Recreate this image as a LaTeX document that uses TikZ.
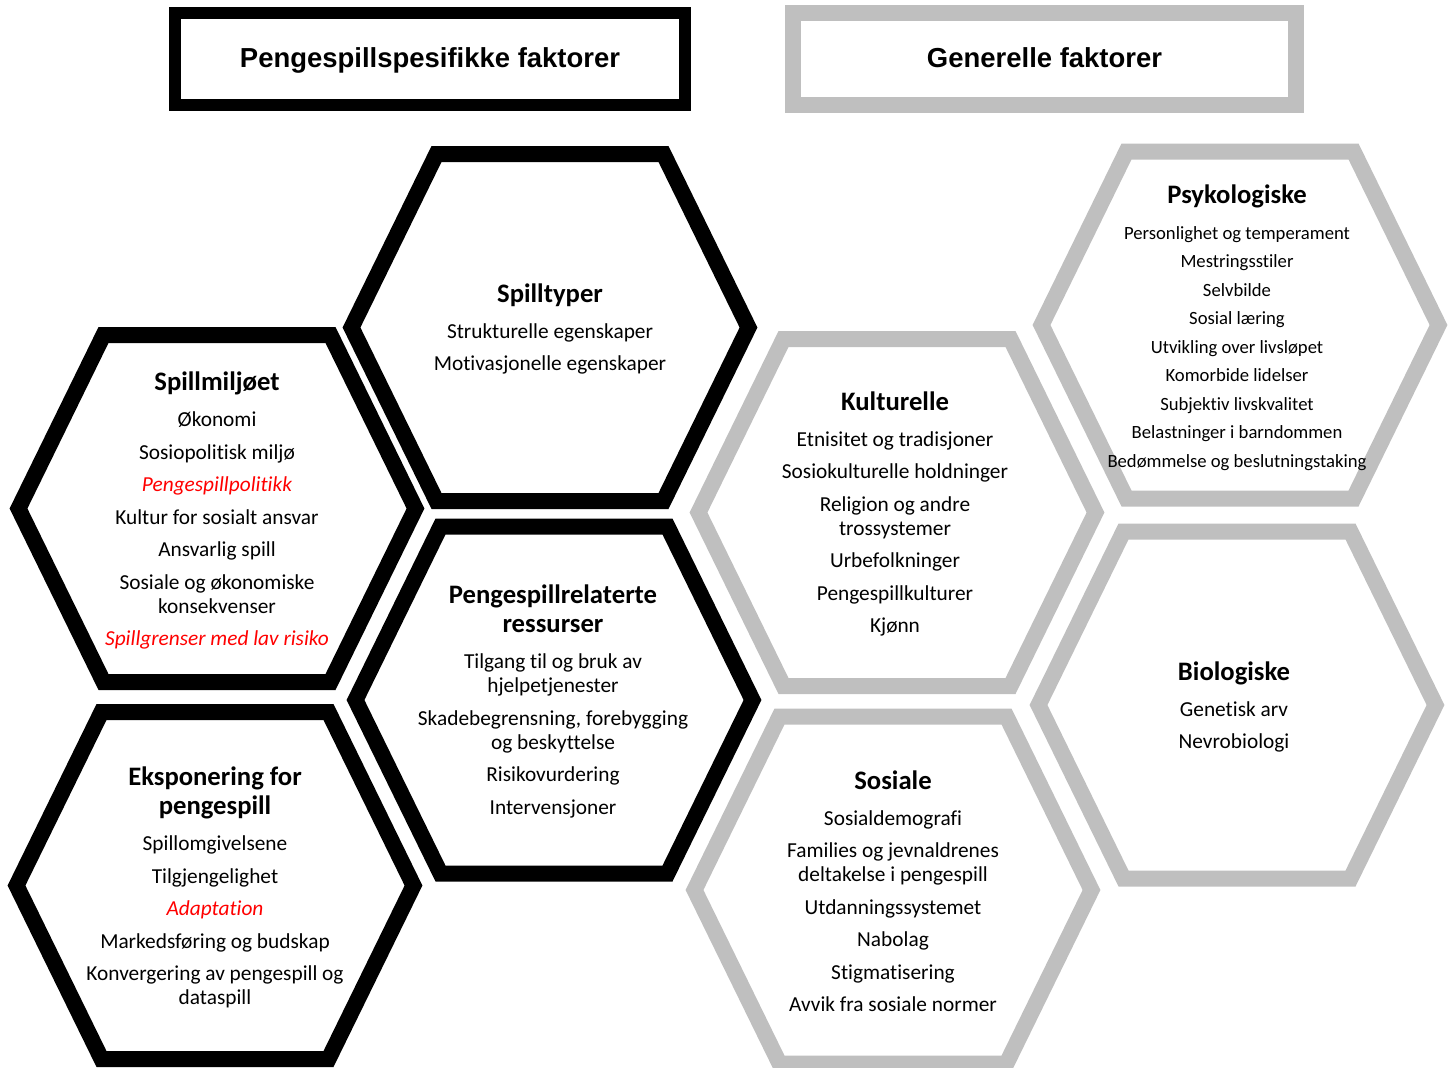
\documentclass[tikz,border=0pt]{standalone}
\usepackage{fontspec}
\setmainfont{Carlito}[Ligatures=NoCommon]
\newfontfamily\boxfont{Liberation Sans}
\definecolor{hexgray}{RGB}{191,191,191}
\newcommand{\hexhead}[1]{{\fontsize{20}{22}\selectfont\bfseries #1}}

\tikzset{
  hexblack/.style={draw=black, line width=12pt},
  hexgrey/.style={draw=hexgray, line width=12pt},
  hextext/.style={text width=300pt, align=flush center, anchor=base, inner sep=0pt,
    font=\fontsize{16}{18}\selectfont},
  headbox/.style={minimum height=69pt, inner sep=0pt, text height=15.5pt, text depth=2.75pt,
    font=\boxfont\fontsize{20.6}{24}\selectfont\bfseries},
}

\begin{document}
\begin{tikzpicture}[x=0.75pt, y=-0.75pt]
        \useasboundingbox (0,0) rectangle (1451,1067);

        % headings
        \node[headbox, draw=black, line width=9pt, minimum width=382.5pt] (spesifikke) at (430,59) {Pengespillspesifikke faktorer};
        \node[headbox, draw=hexgray, line width=12pt, minimum width=377.25pt] (generelle) at (1044.5,58.75) {Generelle faktorer};

        % hexagons
        \foreach \cx/\cy in {550/327.5, 217/508.5, 554/700, 215/885.5}
            \draw[hexblack] (\cx,\cy) ++(-198.5,0) -- ++(85,-173.5) -- ++(227,0) -- ++(85,173.5) -- ++(-85,173.5) -- ++(-227,0) -- cycle;
        \foreach \cx/\cy in {897/512.5, 1240/325, 1237/705, 893/890}
            \draw[hexgrey] (\cx,\cy) ++(-198.5,0) -- ++(85,-173.5) -- ++(227,0) -- ++(85,173.5) -- ++(-85,173.5) -- ++(-227,0) -- cycle;

        % pengespillspesifikke
        \node[hextext] (spilltyper) at (550,302) {\hexhead{Spilltyper}\\[9pt]
            Strukturelle egenskaper\\[6.4pt]
            Motivasjonelle egenskaper};
        \node[hextext] (spillmiljo) at (217,390.5) {\hexhead{Spillmiljøet}\\[9pt]
            Økonomi\\[6.4pt]
            Sosiopolitisk miljø\\[6.4pt]
            {\color{red}\itshape Pengespillpolitikk}\\[6.4pt]
            Kultur for sosialt ansvar\\[6.4pt]
            Ansvarlig spill\\[6.4pt]
            Sosiale og økonomiske\\
            konsekvenser\\[6.4pt]
            {\color{red}\itshape Spillgrenser med lav risiko}};
        \node[hextext] (ressurser) at (553,603.5) {\hexhead{Pengespillrelaterte}\\[4pt]
            \hexhead{ressurser}\\[9pt]
            Tilgang til og bruk av\\
            hjelpetjenester\\[6.4pt]
            Skadebegrensning, forebygging\\
            og beskyttelse\\[6.4pt]
            Risikovurdering\\[6.4pt]
            Intervensjoner};
        \node[hextext] (eksponering) at (215,785.5) {\hexhead{Eksponering for}\\[4pt]
            \hexhead{pengespill}\\[9pt]
            Spillomgivelsene\\[6.4pt]
            Tilgjengelighet\\[6.4pt]
            {\color{red}\itshape Adaptation}\\[6.4pt]
            Markedsføring og budskap\\[6.4pt]
            Konvergering av pengespill og\\
            dataspill};

        % generelle
        \node[hextext] (kulturelle) at (895,410) {\hexhead{Kulturelle}\\[9pt]
            Etnisitet og tradisjoner\\[6.4pt]
            Sosiokulturelle holdninger\\[6.4pt]
            Religion og andre\\
            trossystemer\\[6.4pt]
            Urbefolkninger\\[6.4pt]
            Pengespillkulturer\\[6.4pt]
            Kjønn};
        \node[hextext, font=\fontsize{14}{17}\selectfont] (psykologiske) at (1237,203) {\hexhead{Psykologiske}\\[10pt]
            Personlighet og temperament\\[4.4pt]
            Mestringsstiler\\[4.4pt]
            Selvbilde\\[4.4pt]
            Sosial læring\\[4.4pt]
            Utvikling over livsløpet\\[4.4pt]
            Komorbide lidelser\\[4.4pt]
            Subjektiv livskvalitet\\[4.4pt]
            Belastninger i barndommen\\[4.4pt]
            Bedømmelse og beslutningstaking};
        \node[hextext] (biologiske) at (1234,680) {\hexhead{Biologiske}\\[9pt]
            Genetisk arv\\[6.4pt]
            Nevrobiologi};
        \node[hextext] (sosiale) at (893,789) {\hexhead{Sosiale}\\[9pt]
            Sosialdemografi\\[6.4pt]
            Families og jevnaldrenes\\
            deltakelse i pengespill\\[6.4pt]
            Utdanningssystemet\\[6.4pt]
            Nabolag\\[6.4pt]
            Stigmatisering\\[6.4pt]
            Avvik fra sosiale normer};
\end{tikzpicture}
\end{document}
